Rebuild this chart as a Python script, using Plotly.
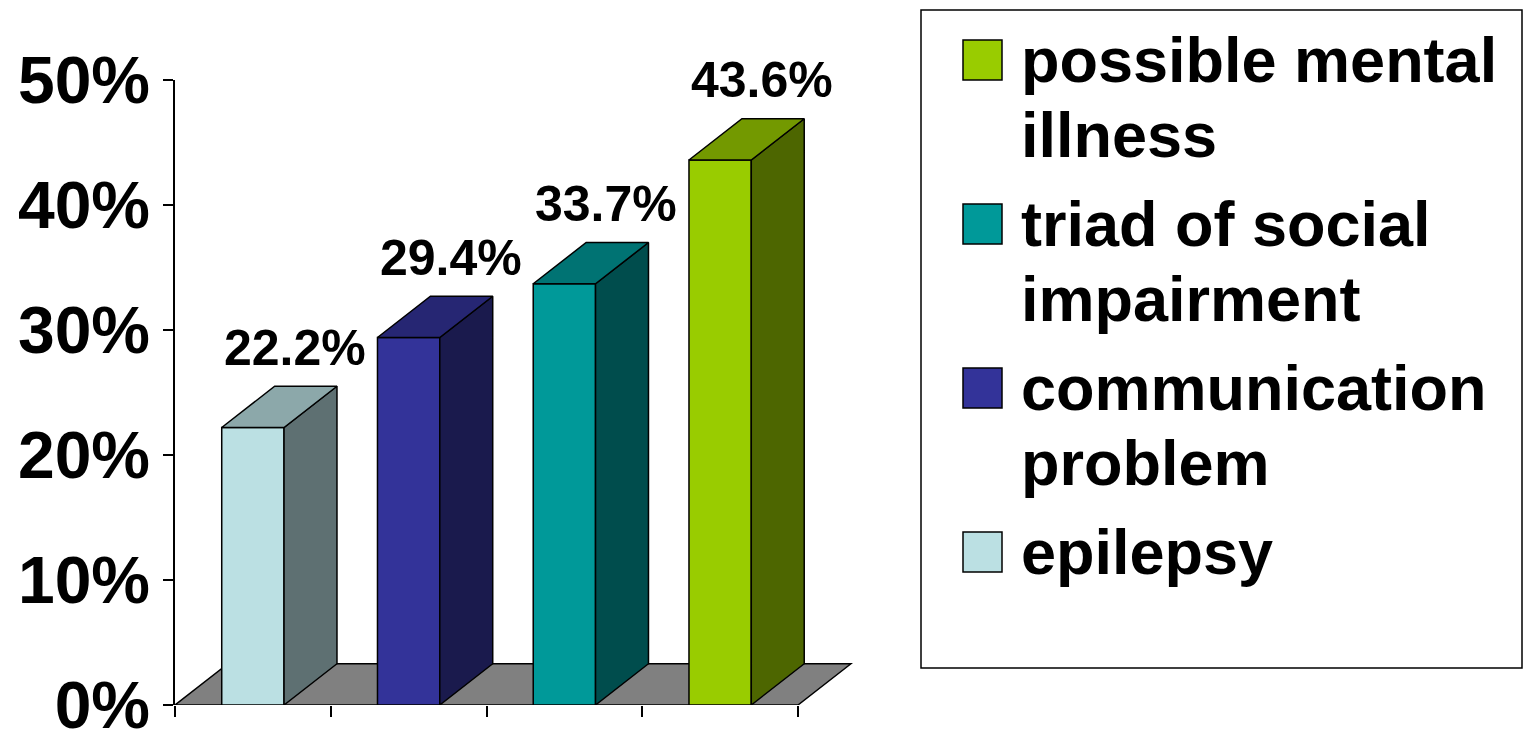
import plotly.graph_objects as go

# ---------------- data ----------------
categories = ["epilepsy", "communication problem", "triad of social impairment", "possible mental illness"]
values = [22.2, 29.4, 33.7, 43.6]
front_colors = ["#BBE0E3", "#333399", "#009999", "#99CC00"]
top_colors = ["#8CA8AA", "#262673", "#007373", "#739900"]
side_colors = ["#5E7072", "#1A1A4D", "#004D4D", "#4D6600"]
y_ticks = [0, 10, 20, 30, 40, 50]
y_tick_labels = ["0%", "10%", "20%", "30%", "40%", "50%"]
# legend, top to bottom
legend_order = [3, 2, 1, 0]
legend_lines = [["possible mental", "illness"],
                ["triad of social", "impairment"],
                ["communication", "problem"],
                ["epilepsy"]]

# ---------------- layout constants ----------------
W, H = 1526, 732
ML, MT, MB = 175, 80, 27
PLOT_W = 678
MR = W - ML - PLOT_W
PLOT_H = H - MT - MB
CAT_PX = 155.75           # pixels per category
BAR_W = 0.4               # bar width in category units
DEPTH_X = 0.34            # 3D depth offset (category units)
DEPTH_Y = 3.3             # 3D depth offset (percent units)
FONT = "Liberation Sans, Arial, Helvetica, sans-serif"
EDGE = dict(color="black", width=1.5)

n = len(categories)
x_lo = -0.5
x_hi = n - 0.5
x_range = [x_lo, x_lo + PLOT_W / CAT_PX]
xs = list(range(n))


def xp(px):
    return (px - ML) / PLOT_W


def yp(py):
    return (H - MB - py) / PLOT_H


fig = go.Figure()

# front faces of the columns
fig.add_trace(go.Bar(
    x=xs, y=values, width=BAR_W,
    marker=dict(color=front_colors, line=EDGE),
    showlegend=False, hoverinfo="skip",
))

# side and top faces, derived from the values
for i, v in enumerate(values):
    l = xs[i] - BAR_W / 2
    r = xs[i] + BAR_W / 2
    fig.add_trace(go.Scatter(
        x=[r, r + DEPTH_X, r + DEPTH_X, r, r],
        y=[0, DEPTH_Y, v + DEPTH_Y, v, 0],
        mode="lines", fill="toself", fillcolor=side_colors[i],
        line=EDGE, showlegend=False, hoverinfo="skip",
    ))
    fig.add_trace(go.Scatter(
        x=[l, l + DEPTH_X, r + DEPTH_X, r, l],
        y=[v, v + DEPTH_Y, v + DEPTH_Y, v, v],
        mode="lines", fill="toself", fillcolor=top_colors[i],
        line=EDGE, showlegend=False, hoverinfo="skip",
    ))

shapes = []
# floor (below the columns)
shapes.append(dict(
    type="path", xref="x", yref="y", layer="below",
    path=(f"M {x_lo},0 L {x_hi},0 L {x_hi + DEPTH_X},{DEPTH_Y} "
          f"L {x_lo + DEPTH_X},{DEPTH_Y} Z"),
    fillcolor="#808080", line=EDGE,
))

annotations = []
# value labels
for i, v in enumerate(values):
    annotations.append(dict(
        x=xs[i], y=v, xref="x", yref="y", xshift=42, yshift=80,
        text=f"{v:.1f}%", showarrow=False,
        font=dict(family=FONT, size=50, color="black", weight="bold"),
        xanchor="center", yanchor="middle",
    ))

# legend box
shapes.append(dict(type="rect", xref="paper", yref="paper",
                   x0=xp(921), x1=xp(1522), y0=yp(668), y1=yp(10),
                   line=EDGE, fillcolor="white", layer="below"))
for k, idx in enumerate(legend_order):
    cy = 60 + 164 * k
    shapes.append(dict(type="rect", xref="paper", yref="paper",
                       x0=xp(963), x1=xp(1002), y0=yp(cy + 20), y1=yp(cy - 20),
                       line=EDGE, fillcolor=front_colors[idx]))
    for j, line in enumerate(legend_lines[k]):
        annotations.append(dict(
            x=xp(1019), y=yp(cy + 75 * j), xref="paper", yref="paper",
            text=line, showarrow=False, xanchor="left", yanchor="middle",
            font=dict(family=FONT, size=63, color="black", weight="bold"),
        ))

fig.update_layout(
    width=W, height=H,
    margin=dict(l=ML, r=MR, t=MT, b=MB, pad=0, autoexpand=False),
    paper_bgcolor="white", plot_bgcolor="white",
    showlegend=False,
    shapes=shapes, annotations=annotations,
    font=dict(family=FONT, color="black"),
    xaxis=dict(
        range=x_range, tickvals=[x_lo + k for k in range(n + 1)],
        showticklabels=False, ticks="outside", ticklen=11, tickwidth=1.5,
        tickcolor="black", showline=False, showgrid=False, zeroline=False,
        fixedrange=True, automargin=False,
    ),
    yaxis=dict(
        range=[0, y_ticks[-1]], tickvals=y_ticks, ticktext=y_tick_labels,
        ticks="outside", ticklen=10, tickwidth=1.5, tickcolor="black",
        showline=True, linecolor="black", linewidth=1.5,
        showgrid=False, zeroline=False, ticklabelstandoff=0,
        ticklabeloverflow="allow", automargin=False,
        tickfont=dict(family=FONT, size=66, color="black", weight="bold"),
        fixedrange=True,
    ),
)

fig.write_html("out.html", config={"displayModeBar": False})
